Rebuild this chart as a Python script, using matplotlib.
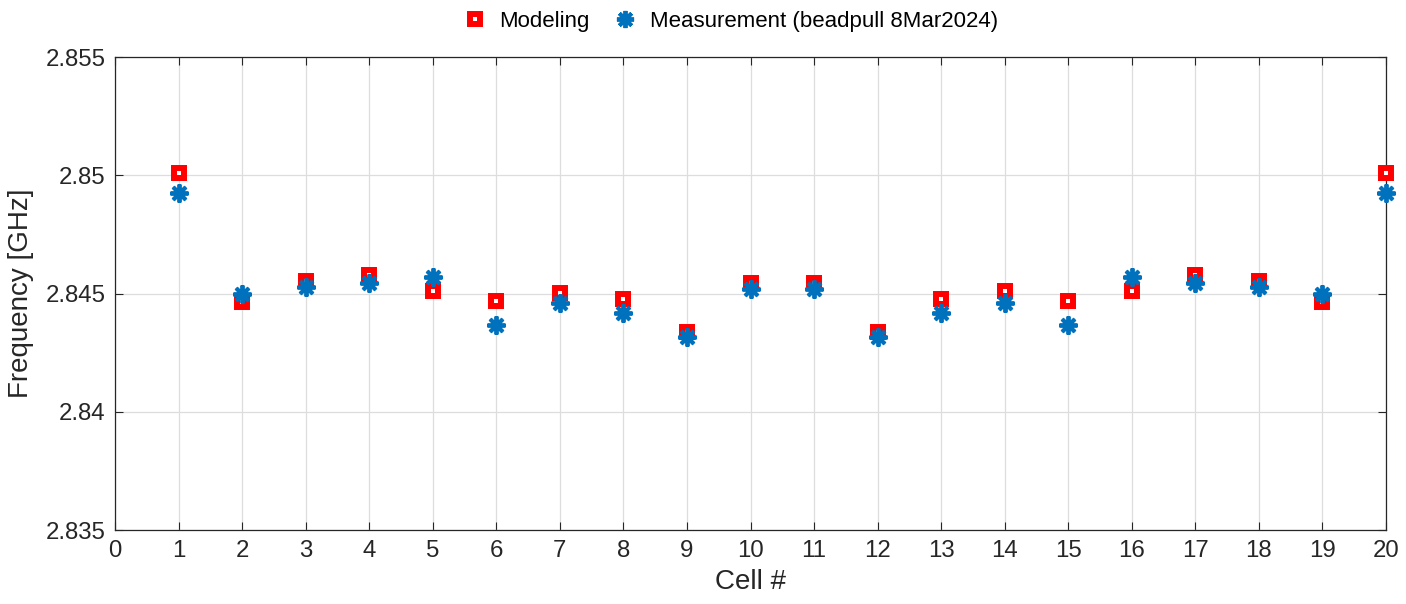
import numpy as np
import matplotlib.pyplot as plt
from matplotlib.ticker import FuncFormatter

cells = list(range(1, 21))
modeling = [2.85008, 2.84466, 2.84551, 2.84579, 2.84509, 2.84469, 2.84502,
            2.84476, 2.84338, 2.84546, 2.84546, 2.84338, 2.84476, 2.84509,
            2.84469, 2.84509, 2.84579, 2.84551, 2.84466, 2.85008]
measurement = [2.84924, 2.84497, 2.84529, 2.84544, 2.84571, 2.84368, 2.84462,
               2.84416, 2.84317, 2.84518, 2.84518, 2.84317, 2.84416, 2.84458,
               2.84368, 2.84571, 2.84544, 2.84529, 2.84497, 2.84924]

plt.rcParams['font.family'] = ['Liberation Sans', 'DejaVu Sans']

fig = plt.figure(figsize=(14.06, 6.04), dpi=100)
ax = fig.add_axes([0.0818, 0.1225, 0.904, 0.783])

ax.plot(cells, modeling, linestyle='none', marker='s', ms=7.2, mew=4.3,
        mec='#ff0000', mfc='white', label='Modeling', clip_on=False, zorder=3)
ax.plot(cells, measurement, linestyle='none', marker=(8, 2, 0), ms=13, mew=2.8,
        mec='#0072bd', mfc='#0072bd', label='Measurement (beadpull 8Mar2024)',
        clip_on=False, zorder=4)

ax.set_xlim(0, 20)
ax.set_ylim(2.835, 2.855)
ax.set_xticks(range(0, 21))
ax.set_yticks([2.835, 2.84, 2.845, 2.85, 2.855])
ax.yaxis.set_major_formatter(FuncFormatter(lambda v, p: '%g' % round(v, 4)))
ax.grid(True, color='#dddddd', linewidth=0.9)
ax.set_axisbelow(True)
ax.tick_params(direction='in', length=6, labelsize=17.3, colors='#262626',
               top=True, right=True, pad=7)
for s in ax.spines.values():
    s.set_color('#262626')
    s.set_linewidth(0.9)

ax.set_xlabel('Cell #', fontsize=20, color='#262626', labelpad=5)
ax.set_ylabel('Frequency [GHz]', fontsize=20, color='#262626', labelpad=8)

fig.legend(loc='center', bbox_to_anchor=(0.519, 0.965), ncol=2, frameon=False,
           fontsize=16, handletextpad=0.5, columnspacing=1.0, markerscale=0.95,
           handlelength=1.2)

fig.savefig('out.png', dpi=100)
